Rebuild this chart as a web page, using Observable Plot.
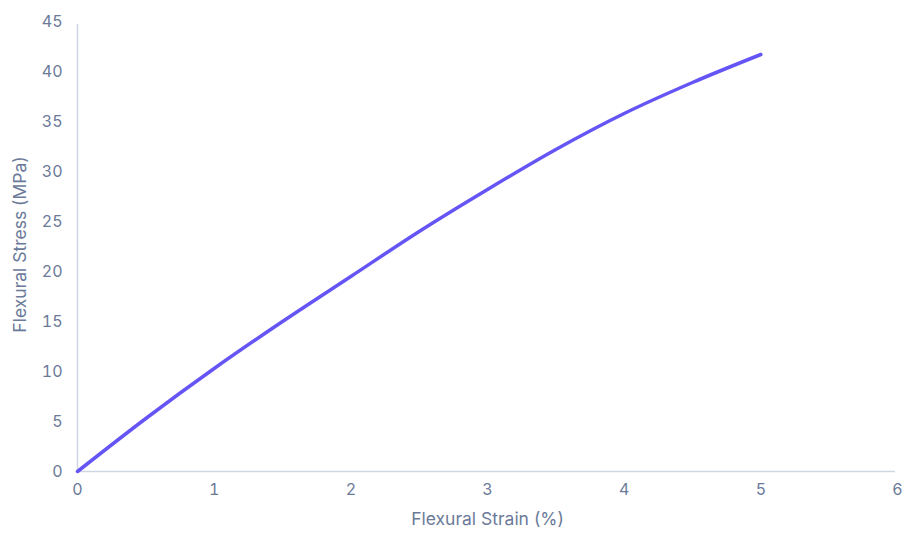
<!DOCTYPE html>
<html><head><meta charset="utf-8">
<script src="https://cdn.jsdelivr.net/npm/d3@7"></script>
<script src="https://cdn.jsdelivr.net/npm/@observablehq/plot@0.6"></script>
<style>body{margin:0;background:#fff;font-family:Inter,"Noto Sans",sans-serif}</style>
</head><body><div id="chart"></div>
<script>
const strain = [0, 0.5, 1, 1.5, 2, 2.5, 3, 3.5, 4, 4.5, 5];
const stress = [0, 5.3, 10.3, 15.0, 19.5, 24.0, 28.2, 32.2, 35.8, 38.9, 41.7];
const xTicks = [0, 1, 2, 3, 4, 5, 6];
const yTicks = [0, 5, 10, 15, 20, 25, 30, 35, 40, 45];
const xTitle = "Flexural Strain (%)";
const yTitle = "Flexural Stress (MPa)";
const data = strain.map((x, i) => ({x, y: stress[i]}));
const labelColor = "#6b7a99";
const plot = Plot.plot({
  width: 904, height: 536,
  marginLeft: 77, marginRight: 7, marginTop: 21, marginBottom: 65,
  style: {fontFamily: "Inter, 'Noto Sans', sans-serif", fontSize: "16px", color: labelColor, background: "#fff"},
  x: {domain: [0, 6]},
  y: {domain: [0, 45]},
  marks: [
    Plot.ruleX([0], {y1: 0, y2: 44.7, stroke: "#cfd6e2", strokeWidth: 1.5}),
    Plot.ruleY([0], {x1: 0, x2: 5.985, stroke: "#cfd6e2", strokeWidth: 1.5}),
    Plot.axisX({ticks: xTicks, tickFormat: d => String(d), tickSize: 0, tickPadding: 12, fill: labelColor, fontSize: 16, label: null}),
    Plot.axisY({ticks: yTicks, tickFormat: d => String(d), tickSize: 0, tickPadding: 15, fill: labelColor, fontSize: 16, label: null}),
    Plot.text([xTitle], {frameAnchor: "bottom", dy: 53, fontSize: 17.5, fill: labelColor}),
    Plot.text([yTitle], {frameAnchor: "left", textAnchor: "middle", dx: -57, dy: -2, rotate: -90, fontSize: 17.5, fill: labelColor}),
    Plot.line(data, {x: "x", y: "y", curve: "monotone-x", stroke: "#6655f5", strokeWidth: 3.5, strokeLinecap: "round"})
  ]
});
document.getElementById("chart").appendChild(plot);
</script></body></html>
